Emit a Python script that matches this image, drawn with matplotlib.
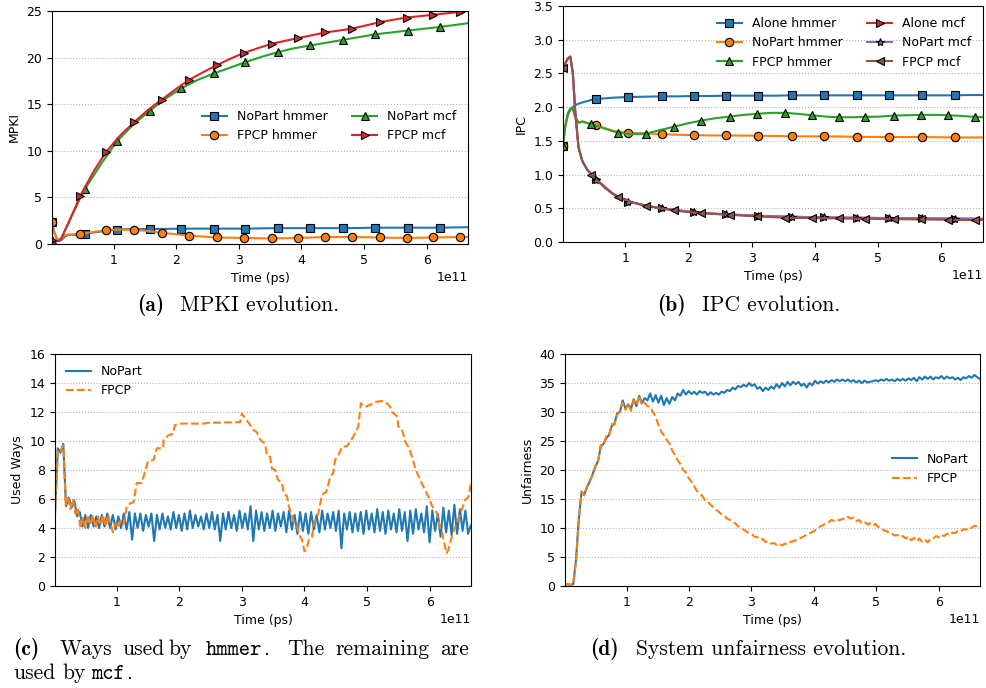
import matplotlib
matplotlib.use("Agg")
import matplotlib.pyplot as plt
import numpy as np
from matplotlib.ticker import MultipleLocator

plt.rcParams["font.family"] = "DejaVu Sans"
plt.rcParams["font.size"] = 9
plt.rcParams["mathtext.fontset"] = "cm"

T_SCALE = 1e11  # time values below are in units of 1e11 ps

# sample times (x 1e11 ps) of the two runs
t_nopart = [0.013, 0.05, 0.09, 0.13, 0.17, 0.21, 0.26, 0.32, 0.4, 0.47, 0.54,
            0.8, 1.05, 1.31, 1.575, 1.83, 2.08, 2.34, 2.6, 2.85, 3.1, 3.37,
            3.63, 3.88, 4.14, 4.4, 4.66, 4.92, 5.18, 5.44, 5.7, 5.96, 6.22,
            6.45, 6.67]
t_fpcp = [0.013, 0.05, 0.09, 0.13, 0.17, 0.21, 0.26, 0.32, 0.39, 0.46, 0.68,
          0.88, 1.11, 1.33, 1.55, 1.77, 1.99, 2.2, 2.42, 2.65, 2.87, 3.08,
          3.3, 3.53, 3.74, 3.95, 4.17, 4.38, 4.6, 4.8, 5.03, 5.25, 5.46, 5.68,
          5.9, 6.1, 6.32, 6.53, 6.67]
mark_nopart = [0] + list(range(10, 33, 2))
mark_fpcp = [0] + list(range(9, 38, 2))

# (a) MPKI
mpki_nopart_hmmer = [2.4, 1.3, 0.6, 0.35, 0.45, 0.75, 0.95, 1.0, 1.0, 1.05, 1.1,
                     1.35, 1.55, 1.6, 1.6, 1.62, 1.65, 1.65, 1.65, 1.65, 1.65,
                     1.68, 1.7, 1.7, 1.7, 1.7, 1.7, 1.72, 1.75, 1.75, 1.75,
                     1.75, 1.75, 1.78, 1.8]
mpki_fpcp_hmmer = [2.4, 1.2, 0.55, 0.4, 0.6, 0.9, 1.0, 1.0, 1.03, 1.07, 1.3,
                   1.5, 1.55, 1.5, 1.4, 1.2, 1.05, 0.9, 0.8, 0.7, 0.67, 0.65,
                   0.62, 0.6, 0.62, 0.65, 0.7, 0.75, 0.75, 0.75, 0.72, 0.7,
                   0.67, 0.65, 0.67, 0.7, 0.72, 0.75, 0.75]
mpki_nopart_mcf = [0.4, 0.3, 0.3, 0.35, 0.7, 1.3, 2.0, 2.9, 4.0, 5.0, 5.9,
                   8.6, 11.0, 12.8, 14.3, 15.6, 16.7, 17.6, 18.3, 18.9, 19.5,
                   20.1, 20.6, 21.0, 21.3, 21.6, 21.9, 22.2, 22.5, 22.7, 22.9,
                   23.1, 23.3, 23.5, 23.7]
mpki_fpcp_mcf = [0.4, 0.3, 0.3, 0.35, 0.7, 1.3, 2.0, 2.9, 4.0, 5.1, 7.8,
                 9.9, 11.7, 13.1, 14.4, 15.5, 16.6, 17.6, 18.4, 19.2, 19.9,
                 20.5, 21.0, 21.5, 21.8, 22.1, 22.4, 22.7, 22.9, 23.1, 23.45,
                 23.8, 24.05, 24.3, 24.45, 24.6, 24.75, 24.9, 25.0]

# (b) IPC
ipc_alone_hmmer = [1.43, 1.72, 1.88, 1.96, 2.0, 2.03, 2.05, 2.07, 2.09, 2.11,
                   2.12, 2.14, 2.15, 2.155, 2.16, 2.16, 2.165, 2.165, 2.17,
                   2.17, 2.17, 2.17, 2.175, 2.175, 2.175, 2.175, 2.175, 2.175,
                   2.175, 2.175, 2.175, 2.175, 2.175, 2.18, 2.18]
ipc_nopart_hmmer = [1.43, 1.72, 1.9, 1.98, 1.97, 1.85, 1.77, 1.78, 1.76, 1.74,
                    1.73, 1.65, 1.62, 1.61, 1.6, 1.59, 1.585, 1.58, 1.58,
                    1.578, 1.577, 1.572, 1.567, 1.567, 1.567, 1.565, 1.56,
                    1.558, 1.557, 1.557, 1.557, 1.553, 1.55, 1.55, 1.55]
ipc_fpcp_hmmer = [1.43, 1.72, 1.9, 1.98, 1.97, 1.85, 1.77, 1.79, 1.77, 1.75,
                  1.68, 1.62, 1.6, 1.607, 1.66, 1.71, 1.76, 1.8, 1.835, 1.86,
                  1.885, 1.9, 1.915, 1.915, 1.9, 1.88, 1.86, 1.85, 1.85,
                  1.855, 1.86, 1.875, 1.88, 1.885, 1.885, 1.88, 1.87, 1.855,
                  1.85]
ipc_alone_mcf = [2.58, 2.65, 2.72, 2.75, 2.5, 1.9, 1.4, 1.2, 1.07, 1.0, 0.93,
                 0.72, 0.6, 0.54, 0.5, 0.47, 0.445, 0.425, 0.41, 0.4, 0.39,
                 0.38, 0.375, 0.37, 0.365, 0.362, 0.36, 0.357, 0.355, 0.352,
                 0.35, 0.35, 0.348, 0.347, 0.345]
ipc_nopart_mcf = [2.58, 2.65, 2.72, 2.75, 2.5, 1.9, 1.4, 1.2, 1.07, 0.99, 0.92,
                  0.71, 0.6, 0.54, 0.5, 0.47, 0.44, 0.42, 0.41, 0.4, 0.39,
                  0.38, 0.375, 0.37, 0.365, 0.362, 0.36, 0.357, 0.355, 0.352,
                  0.35, 0.348, 0.345, 0.343, 0.342]
ipc_fpcp_mcf = [2.58, 2.65, 2.72, 2.75, 2.5, 1.9, 1.4, 1.2, 1.08, 1.0, 0.8,
                0.665, 0.59, 0.537, 0.5, 0.468, 0.445, 0.43, 0.415, 0.404,
                0.39, 0.38, 0.37, 0.36, 0.357, 0.355, 0.352, 0.35, 0.347,
                0.345, 0.342, 0.34, 0.337, 0.335, 0.332, 0.33, 0.327, 0.325,
                0.325]

# (c) ways used by hmmer; NoPart is sampled evenly from 0.014 to 6.658
ways_nopart = [5.0, 9.5, 9.2, 9.8, 5.5, 6.1, 5.4, 5.9, 4.8, 5.1,
               4.1, 4.9, 4.0, 4.9, 4.1, 4.8, 4.0, 4.9, 4.1, 5.0,
               4.0, 4.9, 3.9, 4.8, 4.0, 5.0, 3.9, 5.1, 3.2, 5.0,
               4.0, 5.0, 3.8, 4.9, 4.1, 5.0, 3.1, 4.9, 3.9, 5.0,
               4.0, 4.8, 3.9, 5.1, 4.0, 4.9, 3.8, 5.0, 3.9, 5.2,
               4.0, 4.9, 4.1, 4.8, 3.9, 5.0, 4.0, 5.1, 3.9, 4.9,
               3.1, 5.0, 3.9, 5.1, 4.0, 4.9, 3.8, 5.2, 4.0, 5.0,
               3.9, 5.5, 3.1, 5.2, 3.9, 5.1, 3.8, 5.0, 4.0, 5.2,
               3.8, 5.0, 4.1, 5.1, 3.7, 5.2, 3.9, 4.9, 3.6, 5.1,
               3.8, 5.0, 3.6, 5.1, 3.9, 4.9, 3.7, 5.2, 3.9, 5.0,
               4.0, 5.1, 3.8, 5.2, 2.6, 5.0, 3.9, 5.1, 3.7, 5.0,
               3.8, 5.1, 3.6, 5.2, 3.9, 5.0, 3.7, 5.3, 3.8, 5.1,
               3.6, 5.2, 3.9, 5.0, 3.7, 5.3, 3.8, 5.1, 3.1, 5.2,
               3.6, 5.3, 3.9, 5.0, 3.7, 5.5, 3.0, 5.2, 3.8, 5.0,
               3.4, 5.4, 3.7, 5.2, 3.5, 5.6, 3.6, 5.3, 3.8, 5.2,
               3.6, 4.2]
t_ways_fpcp = [0.014, 0.06, 0.1, 0.15, 0.185, 0.22, 0.26, 0.3, 0.34, 0.38,
               0.42, 0.46, 0.5, 0.54, 0.58, 0.62, 0.66, 0.7, 0.74, 0.78, 0.82,
               0.86, 0.9, 0.94, 0.98, 1.02, 1.06, 1.1, 1.13, 1.16, 1.22, 1.27,
               1.32, 1.4, 1.5, 1.59, 1.64, 1.74, 1.75, 1.83, 1.9, 1.93, 2.01,
               2.39, 2.45, 2.97, 3.0, 3.05, 3.1, 3.19, 3.24, 3.29, 3.37, 3.4,
               3.45, 3.48, 3.53, 3.58, 3.64, 3.67, 3.72, 3.75, 3.82, 3.88,
               3.93, 3.96, 4.0, 4.03, 4.07, 4.12, 4.15, 4.22, 4.28, 4.35,
               4.41, 4.46, 4.49, 4.54, 4.6, 4.68, 4.78, 4.86, 4.9, 4.97, 5.05,
               5.13, 5.24, 5.32, 5.37, 5.4, 5.48, 5.5, 5.56, 5.61, 5.66, 5.72,
               5.77, 5.85, 5.9, 5.98, 6.04, 6.12, 6.16, 6.2, 6.22, 6.27, 6.3,
               6.34, 6.38, 6.45, 6.52, 6.57, 6.62, 6.66]
ways_fpcp = [5.0, 9.4, 9.3, 9.7, 5.6, 6.2, 5.3, 6.0, 5.0, 5.4,
             4.0, 4.7, 4.0, 4.9, 4.2, 4.9, 4.0, 4.8, 4.2, 4.9, 4.1,
             4.9, 4.3, 3.7, 4.3, 4.0, 4.5, 4.2, 4.6, 5.5, 5.7, 5.8,
             7.1, 7.1, 8.6, 8.7, 9.5, 9.5, 10.1, 10.4, 10.5, 11.1, 11.2,
             11.2, 11.25, 11.3, 11.9, 11.55, 11.3, 10.75, 10.6, 10.1, 9.8, 9.0,
             8.9, 8.1, 8.0, 7.3, 7.1, 6.4, 6.2, 5.5, 4.55, 4.1,
             3.4, 3.2, 2.4, 2.5, 3.2, 3.4, 4.3, 5.0, 6.3, 6.5,
             7.5, 7.8, 8.7, 9.0, 9.6, 9.65, 10.3, 11.0, 12.6, 12.35, 12.5,
             12.7, 12.75, 12.6, 12.35, 12.0, 11.7, 11.0, 10.75, 9.95, 9.6, 8.9,
             8.1, 7.3, 6.85, 6.15, 5.5, 5.0, 4.1, 3.65, 3.2, 2.25, 2.5,
             3.2, 3.75, 4.55, 5.35, 5.95, 6.15, 7.1]

# (d) system unfairness, both sampled evenly from 0.014 to 6.658
unfair_nopart = [0.2, 0.3, 0.2, 0.3, 4.5, 11.5, 16.2, 15.8, 17.0, 18.0,
                 19.2, 20.5, 21.5, 24.0, 24.5, 25.5, 26.0, 27.6, 28.0, 29.8,
                 30.0, 32.0, 30.6, 31.3, 30.5, 32.2, 31.0, 32.8, 31.5, 32.4,
                 32.0, 33.2, 31.8, 32.9, 31.6, 32.8, 31.2, 32.4, 31.4, 32.6,
                 32.0, 33.2, 32.8, 33.8, 33.0, 33.6, 33.1, 33.5, 33.0, 33.6,
                 33.3, 33.5, 32.9, 33.4, 33.0, 33.3, 33.0, 33.5, 33.3, 33.8,
                 33.6, 34.2, 33.9, 34.5, 34.3, 34.7, 34.4, 35.0, 34.5, 34.8,
                 34.0, 34.3, 33.6, 34.2, 33.8, 34.4, 34.0, 34.8, 34.2, 35.0,
                 34.4, 35.2, 34.6, 35.2, 34.8, 35.2, 34.5, 34.9, 34.2, 35.0,
                 34.6, 35.4, 34.9, 35.3, 35.0, 35.4, 35.1, 35.5, 35.2, 35.6,
                 35.3, 35.6, 35.3, 35.6, 35.2, 35.5, 35.1, 35.4, 35.0, 35.4,
                 35.1, 35.2, 35.3, 35.5, 35.3, 35.6, 35.4, 35.7, 35.4, 35.6,
                 35.3, 35.7, 35.4, 35.7, 35.4, 35.8, 35.5, 35.9, 35.3, 36.0,
                 35.6, 36.1, 35.7, 36.1, 35.6, 36.0, 35.8, 36.2, 35.7, 36.1,
                 35.8, 36.0, 35.6, 35.9, 35.5, 36.0, 35.8, 36.2, 35.9, 36.4,
                 36.0, 35.7]
unfair_fpcp = [0.4, 0.3, 0.2, 0.3, 4.2, 11.0, 16.3, 15.6, 17.2, 18.1,
               19.0, 20.7, 21.3, 24.3, 24.2, 25.8, 25.8, 27.9, 27.8, 29.5,
               30.2, 31.6, 30.4, 31.5, 30.2, 32.0, 31.2, 32.9, 31.2, 31.6,
               31.0, 30.9, 30.0, 29.2, 27.8, 26.6, 26.0, 25.2, 24.6, 23.4,
               22.6, 21.7, 21.0, 20.0, 19.6, 18.6, 18.0, 17.2, 16.4, 16.0,
               15.5, 14.8, 14.6, 14.0, 13.6, 13.1, 12.8, 12.3, 12.1, 11.6,
               11.4, 11.0, 10.8, 10.3, 10.1, 9.7, 9.4, 9.1, 8.9, 8.5,
               8.4, 8.0, 8.1, 7.6, 7.7, 7.3, 7.4, 7.1, 7.3, 7.0,
               7.3, 7.2, 7.6, 7.7, 7.9, 8.2, 8.3, 8.6, 8.8, 9.1,
               9.3, 9.6, 9.9, 10.3, 10.5, 10.9, 11.0, 11.4, 11.2, 11.5,
               11.3, 11.6, 11.5, 11.9, 11.6, 11.8, 11.2, 11.4, 10.9, 11.1,
               10.6, 10.8, 10.4, 10.7, 10.2, 10.0, 9.6, 9.5, 9.1, 9.0,
               8.7, 8.8, 8.4, 8.6, 8.2, 8.5, 7.9, 8.3, 7.7, 8.2,
               7.6, 8.0, 7.5, 8.1, 8.2, 8.6, 8.4, 8.8, 8.6, 9.0,
               8.8, 9.2, 9.1, 9.5, 9.4, 9.8, 9.7, 10.1, 10.0, 10.4,
               10.3, 10.5]


def ps(values):
    return np.asarray(values) * T_SCALE


def even_times(series):
    return np.linspace(0.014, 6.658, len(series)) * T_SCALE


def style(ax, top, step, ylabel):
    ax.set_xlim(0.014 * T_SCALE, 6.66 * T_SCALE)
    ax.set_ylim(0, top)
    ax.yaxis.set_major_locator(MultipleLocator(step))
    ax.yaxis.grid(True, linestyle=":", color="0.7", linewidth=0.8)
    ax.set_axisbelow(True)
    ax.set_xlabel("Time (ps)")
    ax.set_ylabel(ylabel)


W, H = 987, 688
fig = plt.figure(figsize=(W / 100, H / 100), dpi=100)


def axes_px(left, top, right, bottom):
    return fig.add_axes([left / W, 1 - bottom / H, (right - left) / W,
                         (bottom - top) / H])


mk = dict(markersize=6, markeredgecolor="k", markeredgewidth=0.8, linewidth=1.5)

# (a)
ax = axes_px(52, 11, 468, 244)
ax.plot(ps(t_nopart), mpki_nopart_hmmer, color="C0", marker="s",
        markevery=mark_nopart, label="NoPart hmmer", **mk)
ax.plot(ps(t_fpcp), mpki_fpcp_hmmer, color="C1", marker="o",
        markevery=mark_fpcp, label="FPCP hmmer", **mk)
ax.plot(ps(t_nopart), mpki_nopart_mcf, color="C2", marker="^",
        markevery=mark_nopart, label="NoPart mcf", **mk)
ax.plot(ps(t_fpcp), mpki_fpcp_mcf, color="C3", marker=">",
        markevery=mark_fpcp, label="FPCP mcf", **mk)
style(ax, 25, 5, "MPKI")
ax.legend(ncol=2, frameon=False, loc="center right", bbox_to_anchor=(1.0, 0.505))

# (b)
ax = axes_px(563, 6, 983, 242)
ax.plot(ps(t_nopart), ipc_alone_hmmer, color="C0", marker="s",
        markevery=mark_nopart, label="Alone hmmer", **mk)
ax.plot(ps(t_nopart), ipc_nopart_hmmer, color="C1", marker="o",
        markevery=mark_nopart, label="NoPart hmmer", **mk)
ax.plot(ps(t_fpcp), ipc_fpcp_hmmer, color="C2", marker="^",
        markevery=mark_fpcp, label="FPCP hmmer", **mk)
ax.plot(ps(t_nopart), ipc_alone_mcf, color="C3", marker=">",
        markevery=mark_nopart, label="Alone mcf", **mk)
ax.plot(ps(t_nopart), ipc_nopart_mcf, color="C4", marker="*",
        markevery=mark_nopart, label="NoPart mcf", **mk)
ax.plot(ps(t_fpcp), ipc_fpcp_mcf, color="C5", marker="<",
        markevery=mark_fpcp, label="FPCP mcf", **mk)
style(ax, 3.5, 0.5, "IPC")
ax.legend(ncol=2, frameon=False, loc="upper right")

# (c)
ax = axes_px(55, 354, 471, 586)
ax.plot(even_times(ways_nopart), ways_nopart, color="C0", linewidth=1.5,
        label="NoPart")
ax.plot(ps(t_ways_fpcp), ways_fpcp, color="C1", linestyle="--",
        linewidth=1.5, label="FPCP")
style(ax, 16, 2, "Used Ways")
ax.legend(frameon=False, loc="upper left")

# (d)
ax = axes_px(565, 354, 980, 586)
ax.plot(even_times(unfair_nopart), unfair_nopart, color="C0", linewidth=1.5,
        label="NoPart")
ax.plot(even_times(unfair_fpcp), unfair_fpcp, color="C1", linestyle="--",
        linewidth=1.5, label="FPCP")
style(ax, 40, 5, "Unfairness")
ax.legend(frameon=False, loc="center right", bbox_to_anchor=(1.0, 0.505))

# captions, placed word by word in pixel coordinates (x, baseline)
CAP = 15.5


def cap(x, y, s, fam="cmr10"):
    fig.text(x / W, 1 - y / H, s, family=fam, size=CAP, ha="left",
             va="baseline")


cap(137, 311, "(a)", "cmb10")
cap(180, 311, "MPKI evolution.")
cap(657, 311, "(b)", "cmb10")
cap(702, 311, "IPC evolution.")
cap(590, 655, "(d)", "cmb10")
cap(636, 655, "System unfairness evolution.")

cap(13, 655, "(c)", "cmb10")
cap(60, 655, "Ways")
cap(122, 655, "used")
cap(168, 655, "by")
cap(206, 655, "hmmer", "cmtt10")
cap(263, 655, ".")
cap(287, 655, "The")
cap(335, 655, "remaining")
cap(440, 655, "are")
cap(13, 679, "used")
cap(62, 679, "by")
cap(91, 679, "mcf", "cmtt10")
cap(126, 679, ".")

fig.savefig("out.png", dpi=100)
